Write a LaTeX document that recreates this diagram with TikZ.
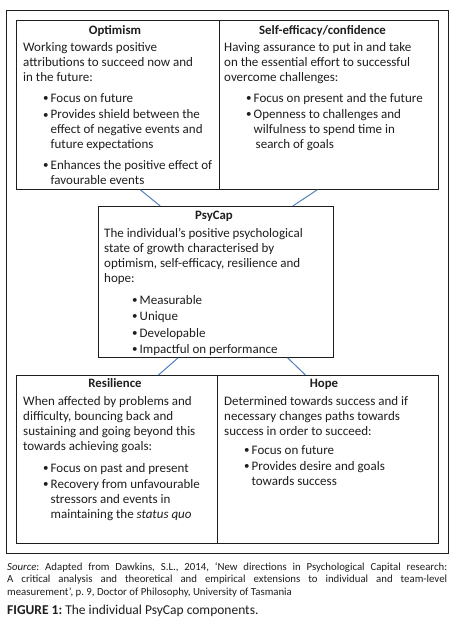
\documentclass[tikz,border=0pt]{standalone}
\usepackage{fontspec}
\setmainfont{Carlito}
\usetikzlibrary{calc}
\definecolor{connblue}{RGB}{79,129,189}
\definecolor{inkc}{RGB}{30,30,30}
\newcommand{\bi}{\makebox[7.5pt][l]{\raisebox{0.6pt}{\fontsize{11}{11}\selectfont\textbullet}}}
\newcommand{\introtab}[1]{\begin{tabular}[t]{@{}l@{}}#1\end{tabular}}
\newcommand{\bullettab}[1]{\begin{tabular}[t]{@{}l@{}l@{}}#1\end{tabular}}
\frenchspacing
\begin{document}
\begin{tikzpicture}[x=1pt,y=-1pt,
  box/.style={draw=inkc, line width=0.8pt, inner sep=0pt, anchor=north west},
  ttl/.style={font=\fontsize{12.8}{15}\selectfont\bfseries, text=inkc, anchor=base, inner sep=0pt},
  txt/.style={font=\fontsize{13}{15}\selectfont, text=inkc, anchor=base west, inner sep=0pt},
  conn/.style={draw=connblue, line width=1pt}]
\useasboundingbox (0,0) rectangle (456,626);
\fill[white] (0,0) rectangle (456,626);
% frame and boxes
\node[box, minimum width=442pt, minimum height=543pt] (frame) at (6,10) {};
\node[box, minimum width=203pt, minimum height=169pt] (opt) at (16,20) {};
\node[box, minimum width=219pt, minimum height=169pt] (se) at (219,20) {};
\node[box, minimum width=235pt, minimum height=151pt] (psy) at (98,206) {};
\node[box, minimum width=201pt, minimum height=168pt] (res) at (16,375) {};
\node[box, minimum width=221pt, minimum height=168pt, line width=1.1pt] (hope) at (217,375) {};
% connectors
\draw[conn] ($(opt.south west)!0.61!(opt.south east)$) -- ($(psy.north west)!0.264!(psy.north east)$);
\draw[conn] ($(se.south west)!0.447!(se.south east)$) -- ($(psy.north west)!0.826!(psy.north east)$);
\draw[conn] ($(psy.south west)!0.34!(psy.south east)$) -- ($(res.north west)!0.706!(res.north east)$);
\draw[conn] ($(psy.south west)!0.804!(psy.south east)$) -- ($(hope.north west)!0.398!(hope.north east)$);
% Optimism
\node[ttl] (optT) at (115,35) {Optimism};
\node[txt] (optI) at (23,52) {\introtab{Working towards positive\\attributions to succeed now and\\in the future:}};
\node[txt] (optL) at (43,102) {\bullettab{\bi&Focus on future\\[2pt]\bi&Provides shield between the\\&effect of negative events and\\&future expectations\\[5pt]\bi&Enhances the positive effect of\\&favourable events}};
% Self-efficacy
\node[ttl] (seT) at (322.5,35) {Self-efficacy/confidence};
\node[txt] (seI) at (224,52) {\introtab{Having assurance to put in and take\\on the essential effort to successful\\overcome challenges:}};
\node[txt] (seL) at (246,102) {\bullettab{\bi&Focus on present and the future\\[1pt]\bi&Openness to challenges and\\&wilfulness to spend time in\\&\hspace{2pt}search of goals}};
% PsyCap
\node[ttl] (psyT) at (214,219) {PsyCap};
\node[txt] (psyI) at (104,237) {\introtab{The individual’s positive psychological\\state of growth characterised by\\optimism, self-efficacy, resilience and\\hope:}};
\node[txt] (psyL) at (132,304) {\bullettab{\bi&Measurable\\[1.5pt]\bi&Unique\\[1.5pt]\bi&Developable\\[1.5pt]\bi&Impactful on performance}};
% Resilience
\node[ttl] (resT) at (115,387) {Resilience};
\node[txt] (resI) at (23,405) {\introtab{When affected by problems and\\difficulty, bouncing back and\\sustaining and going beyond this\\towards achieving goals:}};
\node[txt] (resL) at (43,472) {\bullettab{\bi&Focus on past and present\\[1pt]\bi&Recovery from unfavourable\\&stressors and events in\\&maintaining the \textit{status quo}}};
% Hope
\node[ttl] (hopeT) at (324,387) {Hope};
\node[txt] (hopeI) at (224,405) {\introtab{Determined towards success and if\\necessary changes paths towards\\success in order to succeed:}};
\node[txt] (hopeL) at (244,454) {\bullettab{\bi&Focus on future\\[1pt]\bi&Provides desire and goals\\&towards success}};
% caption
\node[anchor=base west, inner sep=0pt, text=inkc, font=\fontsize{10.8}{12.5}\selectfont] (src) at (7,570) {\parbox[t]{440pt}{\hbox to 440pt{\textit{Source}: Adapted from Dawkins, S.L., 2014, ‘New directions in Psychological Capital research:}\hbox to 440pt{A critical analysis and theoretical and empirical extensions to individual and team-level}\hbox{measurement’, p.~9, Doctor of Philosophy, University of Tasmania}}};
\node[anchor=base west, inner sep=0pt, text=inkc, font=\fontsize{13.5}{15}\selectfont] (cap) at (7,614) {\textbf{FIGURE 1:} The individual PsyCap components.};
\end{tikzpicture}
\end{document}
